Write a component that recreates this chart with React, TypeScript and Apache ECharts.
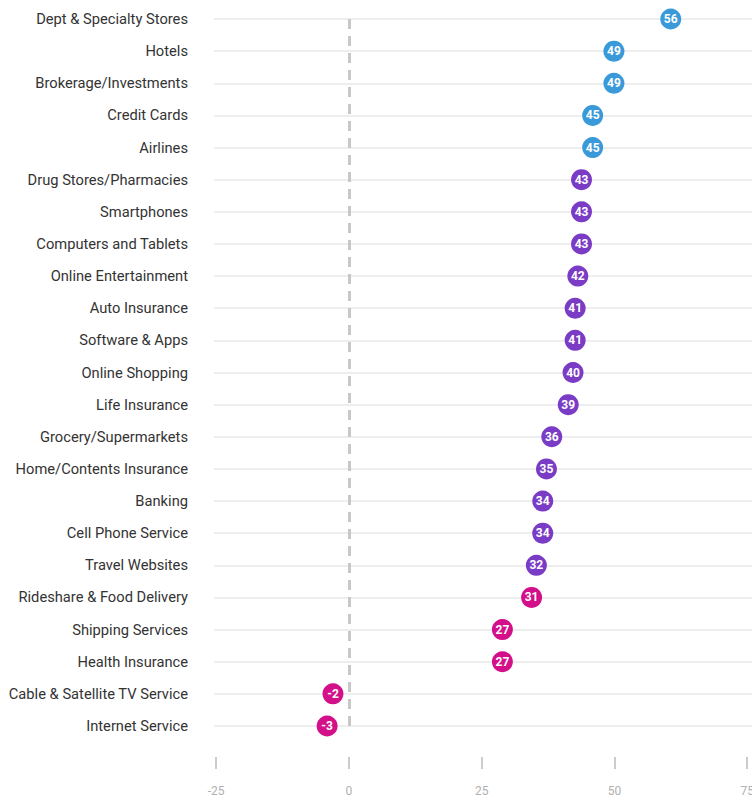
import React, { useEffect, useRef } from "react";
import * as echarts from "echarts";

const categories = [
  "Dept & Specialty Stores",
  "Hotels",
  "Brokerage/Investments",
  "Credit Cards",
  "Airlines",
  "Drug Stores/Pharmacies",
  "Smartphones",
  "Computers and Tablets",
  "Online Entertainment",
  "Auto Insurance",
  "Software & Apps",
  "Online Shopping",
  "Life Insurance",
  "Grocery/Supermarkets",
  "Home/Contents Insurance",
  "Banking",
  "Cell Phone Service",
  "Travel Websites",
  "Rideshare & Food Delivery",
  "Shipping Services",
  "Health Insurance",
  "Cable & Satellite TV Service",
  "Internet Service",
];

// Displayed score labels
const scores = [56, 49, 49, 45, 45, 43, 43, 43, 42, 41, 41, 40, 39, 36, 35, 34, 34, 32, 31, 27, 27, -2, -3];

// Plotted x positions
const positions = [60.6, 49.9, 49.9, 45.9, 45.9, 43.8, 43.8, 43.8, 43.1, 42.6, 42.6, 42.2, 41.3, 38.2, 37.2, 36.5, 36.5, 35.3, 34.4, 28.9, 28.9, -3.0, -4.1];

const xTicks = [-25, 0, 25, 50, 75];

const BLUE = "#3a9ad9";
const PURPLE = "#7a3bc5";
const MAGENTA = "#d30f89";

function colorFor(score: number) {
  if (score >= 45) return BLUE;
  if (score >= 32) return PURPLE;
  return MAGENTA;
}

export default function App() {
  const ref = useRef<HTMLDivElement>(null);
  useEffect(() => {
    if (!ref.current) return;
    const chart = echarts.init(ref.current, null, { renderer: "svg" });
    chart.setOption({
      animation: false,
      backgroundColor: "#ffffff",
      textStyle: { fontFamily: "Roboto" },
      grid: {
        left: 214,
        right: 0,
        top: 19,
        bottom: 73,
        containLabel: false,
        outerBoundsMode: "none",
      },
      xAxis: {
        type: "value",
        min: -25.4,
        max: 75.9,
        position: "bottom",
        offset: 31,
        axisLine: { show: false },
        splitLine: { show: false },
        axisTick: {
          show: true,
          customValues: xTicks,
          length: 12,
          lineStyle: { color: "#cccccc", width: 2 },
        },
        axisLabel: {
          customValues: xTicks,
          color: "#b0b0b0",
          fontSize: 12,
          margin: 28,
          fontFamily: "Roboto",
        },
      },
      yAxis: {
        type: "category",
        data: categories,
        inverse: true,
        boundaryGap: false,
        axisLine: { show: false },
        axisTick: { show: false },
        splitLine: { show: true, lineStyle: { color: "#e8e8e8", width: 1.5 } },
        axisLabel: {
          color: "#333333",
          fontSize: 14.7,
          margin: 26,
          fontFamily: "Roboto",
        },
      },
      series: [
        {
          type: "scatter",
          symbol: "circle",
          symbolSize: 21,
          data: positions.map((p, i) => ({
            value: [p, categories[i]],
            itemStyle: { color: colorFor(scores[i]), opacity: 1 },
          })),
          itemStyle: { opacity: 1 },
          label: {
            show: true,
            position: "inside",
            color: "#ffffff",
            fontWeight: "bold",
            fontSize: 12,
            fontFamily: "Roboto",
            formatter: (p: any) => String(scores[p.dataIndex]),
          },
          markLine: {
            silent: true,
            symbol: "none",
            z: 1,
            label: { show: false },
            lineStyle: { type: [10, 7], color: "#c8c8c8", width: 3 },
            data: [{ xAxis: 0 }],
          },
        },
      ],
    });
    return () => chart.dispose();
  }, []);
  return (
    <div
      ref={ref}
      style={{ position: "fixed", left: 0, top: 0, width: 752, height: 799 }}
    />
  );
}
